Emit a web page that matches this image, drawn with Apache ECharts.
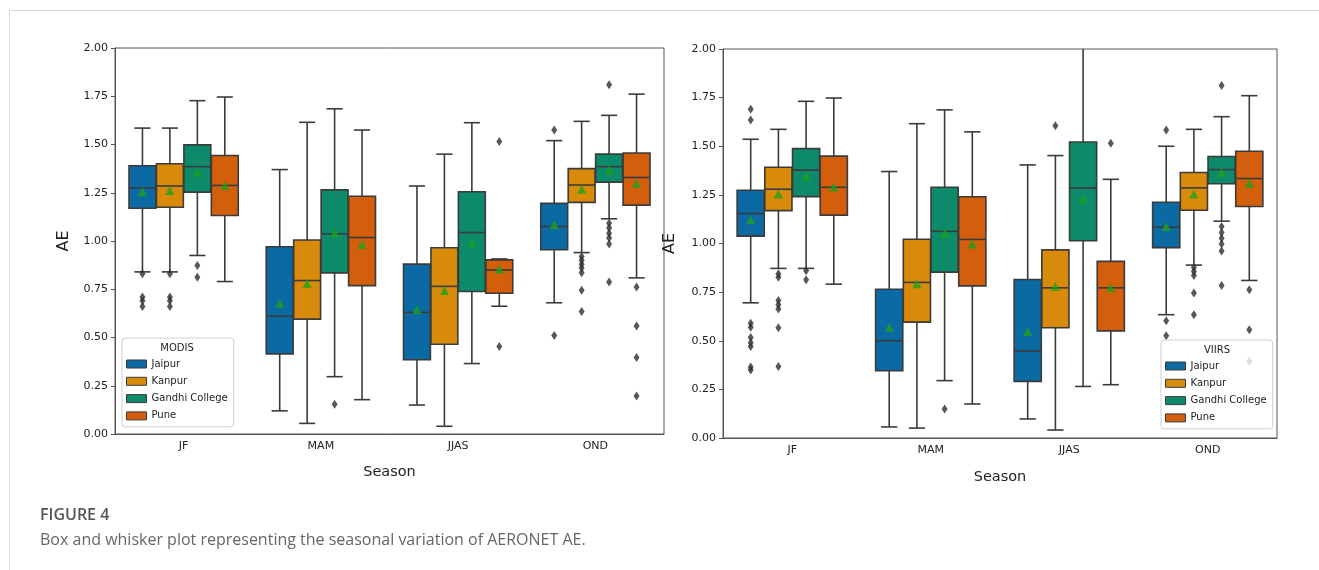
<!DOCTYPE html>
<html>
<head>
<meta charset="utf-8">
<script src="https://cdn.jsdelivr.net/npm/echarts@6/dist/echarts.min.js"></script>
<style>
  html, body { margin: 0; padding: 0; background: #fff; }
  #chart { width: 1319px; height: 570px; }
</style>
</head>
<body>
<div id="chart"></div>
<script>
const seasons = ['JF', 'MAM', 'JJAS', 'OND']
const sites = ['Jaipur', 'Kanpur', 'Gandhi College', 'Pune']
const siteColors = ['#0b69a3', '#d88b0b', '#0d8a6a', '#d35e0b']

// [lower whisker, Q1, median, Q3, upper whisker] per site, per season
const modisBox = [
    [[0.84, 1.17, 1.275, 1.39, 1.585], [0.12, 0.415, 0.61, 0.97, 1.37], [0.15, 0.385, 0.63, 0.88, 1.285], [0.68, 0.955, 1.075, 1.195, 1.52]],
    [[0.84, 1.175, 1.285, 1.40, 1.585], [0.055, 0.595, 0.795, 1.005, 1.615], [0.04, 0.465, 0.765, 0.965, 1.45], [0.94, 1.20, 1.29, 1.375, 1.62]],
    [[0.925, 1.253, 1.385, 1.498, 1.727], [0.297, 0.835, 1.037, 1.265, 1.685], [0.365, 0.738, 1.044, 1.255, 1.613], [1.115, 1.305, 1.385, 1.45, 1.651]],
    [[0.79, 1.132, 1.288, 1.443, 1.746], [0.178, 0.769, 1.018, 1.232, 1.575], [0.662, 0.729, 0.85, 0.902, 0.907], [0.809, 1.186, 1.329, 1.456, 1.761]]
]
const modisMean = [
    [1.255, 0.678, 0.645, 1.085],
    [1.262, 0.78, 0.743, 1.268],
    [1.357, 1.041, 0.992, 1.368],
    [1.288, 0.982, 0.854, 1.298]
]
const modisOutliers = [
    [[0.83, 0.71, 0.69, 0.66], [], [], [1.575, 0.51]],
    [[0.83, 0.71, 0.69, 0.66], [], [], [0.92, 0.90, 0.88, 0.86, 0.835, 0.745, 0.635]],
    [[0.873, 0.812], [0.154], [], [1.81, 1.092, 1.067, 1.04, 1.015, 0.985, 0.787]],
    [[], [], [1.516, 0.453], [0.762, 0.56, 0.396, 0.197]]
]

const viirsBox = [
    [[0.695, 1.038, 1.154, 1.274, 1.536], [0.057, 0.346, 0.50, 0.765, 1.37], [0.098, 0.291, 0.447, 0.815, 1.404], [0.634, 0.979, 1.084, 1.212, 1.50]],
    [[0.872, 1.169, 1.279, 1.392, 1.587], [0.051, 0.596, 0.80, 1.022, 1.616], [0.041, 0.567, 0.772, 0.967, 1.452], [0.889, 1.171, 1.286, 1.365, 1.587]],
    [[0.872, 1.241, 1.377, 1.488, 1.731], [0.295, 0.853, 1.063, 1.289, 1.687], [0.265, 1.014, 1.286, 1.522, 2.1], [1.115, 1.307, 1.38, 1.447, 1.652]],
    [[0.791, 1.146, 1.289, 1.449, 1.748], [0.175, 0.782, 1.021, 1.24, 1.574], [0.274, 0.551, 0.772, 0.908, 1.33], [0.81, 1.19, 1.334, 1.474, 1.76]]
]
const viirsMean = [
    [1.122, 0.57, 0.548, 1.087],
    [1.255, 0.793, 0.779, 1.255],
    [1.346, 1.053, 1.228, 1.365],
    [1.291, 0.998, 0.772, 1.31]
]
const viirsOutliers = [
    [[1.69, 1.635, 0.59, 0.57, 0.517, 0.49, 0.47, 0.365, 0.35], [], [], [1.584, 0.603, 0.526]],
    [[0.844, 0.827, 0.707, 0.685, 0.663, 0.567, 0.368], [], [1.606], [0.877, 0.856, 0.836, 0.745, 0.634]],
    [[0.86, 0.813], [0.149], [], [1.812, 1.087, 1.057, 1.027, 0.998, 0.962, 0.784]],
    [[], [], [1.515], [0.762, 0.557, 0.394]]
]

const yTicks = [0, 0.25, 0.5, 0.75, 1, 1.25, 1.5, 1.75, 2]

const EDGE = '#3b3b3b'
const FONT = 'DejaVu Sans'
const HUE_WIDTH = 0.8 / sites.length
const BOX_WIDTH = HUE_WIDTH * 0.98
const Y_MAX = yTicks[yTicks.length - 1]

const panels = [
    {name: 'MODIS', box: modisBox, mean: modisMean, outliers: modisOutliers,
        grid: {left: 115, top: 48, width: 549, height: 386},
        legend: {left: 122, top: 338, width: 110}, yNameGap: 43, xNameGap: 31},
    {name: 'VIIRS', box: viirsBox, mean: viirsMean, outliers: viirsOutliers,
        grid: {left: 723, top: 49, width: 554, height: 389},
        legend: {left: 1161, top: 340, width: 112}, yNameGap: 45, xNameGap: 32}
]

function hueOffset(k) {
    return (k - (sites.length - 1) / 2) * HUE_WIDTH
}

function makeBoxRenderer(offset, color) {
    return function (params, api) {
        const x = api.value(0) + offset
        const w = api.size([BOX_WIDTH, 0])[0]
        const capHalf = w * 0.3
        const cx = api.coord([x, api.value(3)])[0]
        const y = v => api.coord([x, Math.min(v, Y_MAX)])[1]
        const lo = api.value(1), q1 = api.value(2), med = api.value(3), q3 = api.value(4), hi = api.value(5)
        const line = {stroke: EDGE, lineWidth: 1.6}
        const children = [
            {type: 'line', shape: {x1: cx, y1: y(lo), x2: cx, y2: y(q1)}, style: line},
            {type: 'line', shape: {x1: cx, y1: y(q3), x2: cx, y2: y(hi)}, style: line},
            {type: 'line', shape: {x1: cx - capHalf, y1: y(lo), x2: cx + capHalf, y2: y(lo)}, style: line},
            {type: 'rect', shape: {x: cx - w / 2, y: y(q3), width: w, height: y(q1) - y(q3)},
                style: {fill: color, stroke: EDGE, lineWidth: 1.6}},
            {type: 'line', shape: {x1: cx - w / 2, y1: y(med), x2: cx + w / 2, y2: y(med)}, style: line}
        ]
        if (hi <= Y_MAX) {
            children.push({type: 'line', shape: {x1: cx - capHalf, y1: y(hi), x2: cx + capHalf, y2: y(hi)}, style: line})
        }
        return {type: 'group', children}
    }
}

const grids = [], xAxes = [], yAxes = [], legends = [], series = [], graphics = []

panels.forEach((panel, p) => {
    grids.push({...panel.grid, show: true, borderColor: '#555', borderWidth: 1})

    xAxes.push({
        type: 'category', gridIndex: p, data: seasons,
        name: 'Season', nameLocation: 'middle', nameGap: panel.xNameGap,
        nameTextStyle: {fontFamily: FONT, fontSize: 14.5, color: '#222'},
        axisLine: {onZero: false, lineStyle: {color: '#555'}},
        axisTick: {alignWithLabel: true, length: 4, lineStyle: {color: '#555'}},
        axisLabel: {fontFamily: FONT, fontSize: 11, color: '#222', margin: 7}
    })
    xAxes.push({type: 'value', gridIndex: p, min: -0.5, max: seasons.length - 0.5, show: false})

    yAxes.push({
        type: 'value', gridIndex: p, min: yTicks[0], max: Y_MAX, interval: yTicks[1] - yTicks[0],
        name: 'AE', nameLocation: 'middle', nameGap: panel.yNameGap,
        nameTextStyle: {fontFamily: FONT, fontSize: 16, color: '#222'},
        axisLine: {show: true, onZero: false, lineStyle: {color: '#555'}},
        axisTick: {show: true, length: 4, lineStyle: {color: '#555'}},
        splitLine: {show: false},
        axisLabel: {fontFamily: FONT, fontSize: 11, color: '#222', margin: 7, formatter: v => v.toFixed(2)}
    })

    const xIdx = p * 2 + 1
    const meanData = [], outlierData = []

    sites.forEach((site, k) => {
        const off = hueOffset(k)
        series.push({
            type: 'custom', name: site, xAxisIndex: xIdx, yAxisIndex: p,
            itemStyle: {color: siteColors[k], borderColor: EDGE, borderWidth: 1},
            renderItem: makeBoxRenderer(off, siteColors[k]),
            encode: {x: 0, y: [1, 5]},
            data: seasons.map((s, i) => [i, ...panel.box[k][i]]),
            silent: true
        })
        seasons.forEach((s, i) => {
            meanData.push([i + off, panel.mean[k][i]])
            panel.outliers[k][i].forEach(v => outlierData.push([i + off, v]))
        })
    })

    series.push({
        type: 'scatter', name: 'outliers', xAxisIndex: xIdx, yAxisIndex: p,
        symbol: 'diamond', symbolSize: [6, 9], z: 3,
        itemStyle: {color: '#2e2e2e'}, data: outlierData, silent: true
    })
    series.push({
        type: 'scatter', name: 'mean', xAxisIndex: xIdx, yAxisIndex: p,
        symbol: 'triangle', symbolSize: 9, z: 4,
        itemStyle: {color: '#1ea01e'}, data: meanData, silent: true
    })

    legends.push({
        data: sites, orient: 'vertical',
        left: panel.legend.left, top: panel.legend.top,
        padding: [20, 6, 5, 4], itemGap: 5.3,
        itemWidth: 20, itemHeight: 8, icon: 'rect',
        itemStyle: {borderColor: EDGE, borderWidth: 1},
        backgroundColor: 'rgba(255,255,255,0.8)', borderColor: '#d0d0d0', borderWidth: 1, borderRadius: 3,
        textStyle: {fontFamily: FONT, fontSize: 10, color: '#222', lineHeight: 12},
        selectedMode: false
    })

    graphics.push({
        type: 'text', z: 100,
        x: panel.legend.left + panel.legend.width / 2, y: panel.legend.top + 10,
        style: {text: panel.name, fontFamily: FONT, fontSize: 10, fill: '#222', align: 'center', verticalAlign: 'middle'}
    })
})

// page frame and caption
graphics.push(
    {type: 'line', shape: {x1: 9, y1: 10.5, x2: 1319, y2: 10.5}, style: {stroke: '#d9d9d9', lineWidth: 1}},
    {type: 'line', shape: {x1: 9.5, y1: 10, x2: 9.5, y2: 570}, style: {stroke: '#d9d9d9', lineWidth: 1}},
    {type: 'text', x: 40, y: 515, style: {text: 'FIGURE 4', fontFamily: 'Open Sans', fontSize: 16, fontWeight: 600,
        fill: '#555', verticalAlign: 'middle'}},
    {type: 'text', x: 40, y: 540, style: {text: 'Box and whisker plot representing the seasonal variation of AERONET AE.',
        fontFamily: 'Open Sans', fontSize: 16, fill: '#666', verticalAlign: 'middle'}}
)

const myChart = echarts.init(document.getElementById('chart'))
myChart.setOption({
    animation: false,
    grid: grids,
    xAxis: xAxes,
    yAxis: yAxes,
    legend: legends,
    series: series,
    graphic: graphics
})
window.addEventListener('resize', myChart.resize)
</script>
</body>
</html>
